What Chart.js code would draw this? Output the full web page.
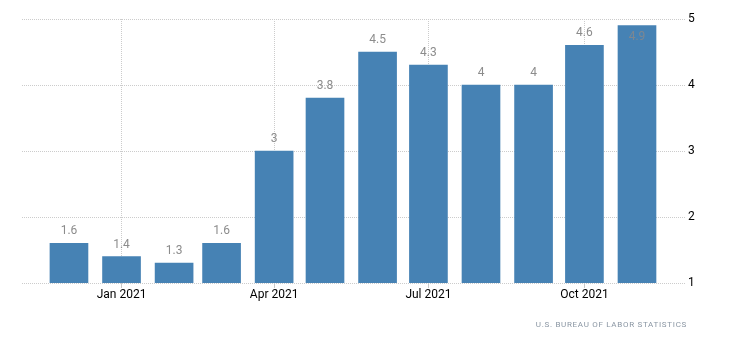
<!DOCTYPE html>
<html>
<head>
<meta charset="utf-8">
<script src="https://cdn.jsdelivr.net/npm/chart.js@4"></script>
<style>
  html, body { margin: 0; padding: 0; background: #fff; }
  #wrap { width: 730px; height: 352px; }
</style>
</head>
<body>
<div id="wrap"><canvas id="myChart" width="730" height="352"></canvas></div>
<script>
// months (first day of each month), values
const months = ["2020-12", "2021-01", "2021-02", "2021-03", "2021-04", "2021-05",
                "2021-06", "2021-07", "2021-08", "2021-09", "2021-10", "2021-11"];
const values = [1.6, 1.4, 1.3, 1.6, 3, 3.8, 4.5, 4.3, 4, 4, 4.6, 4.9];
const tickMonths = ["2021-01", "2021-04", "2021-07", "2021-10"];
const tickLabels = ["Jan 2021", "Apr 2021", "Jul 2021", "Oct 2021"];
const yTicks = [1, 2, 3, 4, 5];
const source = "U.S. BUREAU OF LABOR STATISTICS";

const toDay = (s) => {
  const p = s.split("-");
  return Date.UTC(+p[0], +p[1] - 1, 1) / 864e5;
};
const days = months.map(toDay);
const tickDays = tickMonths.map(toDay);

const FONT = "Roboto, 'Liberation Sans', sans-serif";

// 막대 위 값 표시
const valueLabels = {
  id: "valueLabels",
  afterDatasetsDraw(chart) {
    const ctx = chart.ctx;
    const meta = chart.getDatasetMeta(0);
    ctx.save();
    ctx.font = "12px " + FONT;
    ctx.textAlign = "center";
    ctx.textBaseline = "middle";
    meta.data.forEach((bar, i) => {
      let y = bar.y - 12;
      if (y - 6 < chart.chartArea.top) {
        y = bar.y + 11;
        ctx.fillStyle = "#7d8791";
      } else {
        ctx.fillStyle = "#8c8c8c";
      }
      ctx.fillText(String(values[i]), bar.x, y);
    });
    ctx.restore();
  }
};

// 출처
const sourceText = {
  id: "sourceText",
  afterDraw(chart) {
    const ctx = chart.ctx;
    ctx.save();
    ctx.font = "8px " + FONT;
    ctx.letterSpacing = "0.7px";
    ctx.fillStyle = "#8a96a3";
    ctx.textAlign = "right";
    ctx.textBaseline = "middle";
    ctx.fillText(source, 687, 325);
    ctx.restore();
  }
};

const myChart = new Chart(document.getElementById("myChart"), {
  type: "bar",
  data: {
    datasets: [{
      data: days.map((d, i) => ({ x: d, y: values[i] })),
      backgroundColor: "#4682b4",
      borderWidth: 0,
      barThickness: 38,
    }]
  },
  options: {
    responsive: false,
    animation: false,
    layout: { padding: { left: 22, top: 19, right: 0, bottom: 0 } },
    plugins: {
      legend: { display: false },
      tooltip: { enabled: false }
    },
    scales: {
      x: {
        type: "linear",
        offset: false,
        min: days[0] - 27.7,
        max: days[days.length - 1] + 28.9,
        afterBuildTicks: (scale) => { scale.ticks = tickDays.map(v => ({ value: v })); },
        afterFit: (scale) => { scale.height = 69; },
        border: { display: false, dash: [1, 1] },
        grid: {
          offset: false,
          color: "#cccccc",
          lineWidth: 1,
          drawTicks: true,
          tickLength: 5,
          tickColor: "#c8c8c8",
          tickBorderDash: [],
        },
        ticks: {
          autoSkip: false,
          maxRotation: 0,
          padding: 0,
          color: "#000",
          font: { size: 12, family: FONT },
          callback: (v) => tickLabels[tickDays.indexOf(v)]
        }
      },
      y: {
        position: "right",
        min: yTicks[0],
        max: yTicks[yTicks.length - 1],
        afterBuildTicks: (scale) => { scale.ticks = yTicks.map(v => ({ value: v })); },
        afterFit: (scale) => { scale.width = 44; },
        border: { display: false, dash: [1, 1] },
        grid: {
          color: "#cccccc",
          lineWidth: 1,
          drawTicks: false,
        },
        ticks: {
          padding: 2,
          color: "#000",
          font: { size: 12, family: FONT },
        }
      }
    }
  },
  plugins: [valueLabels, sourceText]
});
</script>
</body>
</html>
